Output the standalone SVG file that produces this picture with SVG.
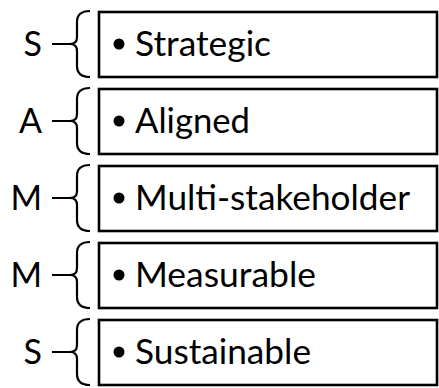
<svg xmlns="http://www.w3.org/2000/svg" width="439" height="388" viewBox="0 0 439 388">
<defs>
<style>
.box{fill:#fff;stroke:#000;stroke-width:2.6}
.brace{fill:none;stroke:#000;stroke-width:2.2;stroke-linejoin:round}
.lbl{font-family:Lato,"Liberation Sans",Arial,sans-serif;font-size:34px;fill:#000}
.item{font-family:Lato,"Liberation Sans",Arial,sans-serif;font-size:34px;fill:#000}
.dot{fill:#000}
</style>
<path id="br" d="M90,11 Q77,11 77,22 L77,37 Q77,44 70,44 Q77,44 77,51 L77,66 Q77,77 90,77 M52,44 L70,44"/>
</defs>
<rect width="439" height="388" fill="#fff"/>
<g id="connectors">
<use href="#br" class="brace"/>
<use href="#br" class="brace" y="77"/>
<use href="#br" class="brace" y="154"/>
<use href="#br" class="brace" y="231"/>
<use href="#br" class="brace" y="308"/>
</g>
<g id="node-strategic">
<text class="lbl" x="42" y="56" text-anchor="end">S</text>
<rect class="box" x="99" y="12" width="338" height="65"/>
<circle class="dot" cx="119" cy="44" r="5.5"/>
<text class="item" x="135" y="56" textLength="136" lengthAdjust="spacingAndGlyphs">Strategic</text>
</g>
<g id="node-aligned">
<text class="lbl" x="42" y="133" text-anchor="end">A</text>
<rect class="box" x="99" y="89" width="338" height="65"/>
<circle class="dot" cx="119" cy="121" r="5.5"/>
<text class="item" x="135" y="133" textLength="115" lengthAdjust="spacingAndGlyphs">Aligned</text>
</g>
<g id="node-multi">
<text class="lbl" x="42" y="210" text-anchor="end">M</text>
<rect class="box" x="99" y="166" width="338" height="65"/>
<circle class="dot" cx="119" cy="198" r="5.5"/>
<text class="item" x="135" y="210" textLength="275" lengthAdjust="spacingAndGlyphs">Multi-stakeholder</text>
</g>
<g id="node-measurable">
<text class="lbl" x="42" y="287" text-anchor="end">M</text>
<rect class="box" x="99" y="243" width="338" height="65"/>
<circle class="dot" cx="119" cy="275" r="5.5"/>
<text class="item" x="135" y="287" textLength="181" lengthAdjust="spacingAndGlyphs">Measurable</text>
</g>
<g id="node-sustainable">
<text class="lbl" x="42" y="364" text-anchor="end">S</text>
<rect class="box" x="99" y="320" width="338" height="65"/>
<circle class="dot" cx="119" cy="352" r="5.5"/>
<text class="item" x="135" y="364" textLength="176" lengthAdjust="spacingAndGlyphs">Sustainable</text>
</g>
</svg>
